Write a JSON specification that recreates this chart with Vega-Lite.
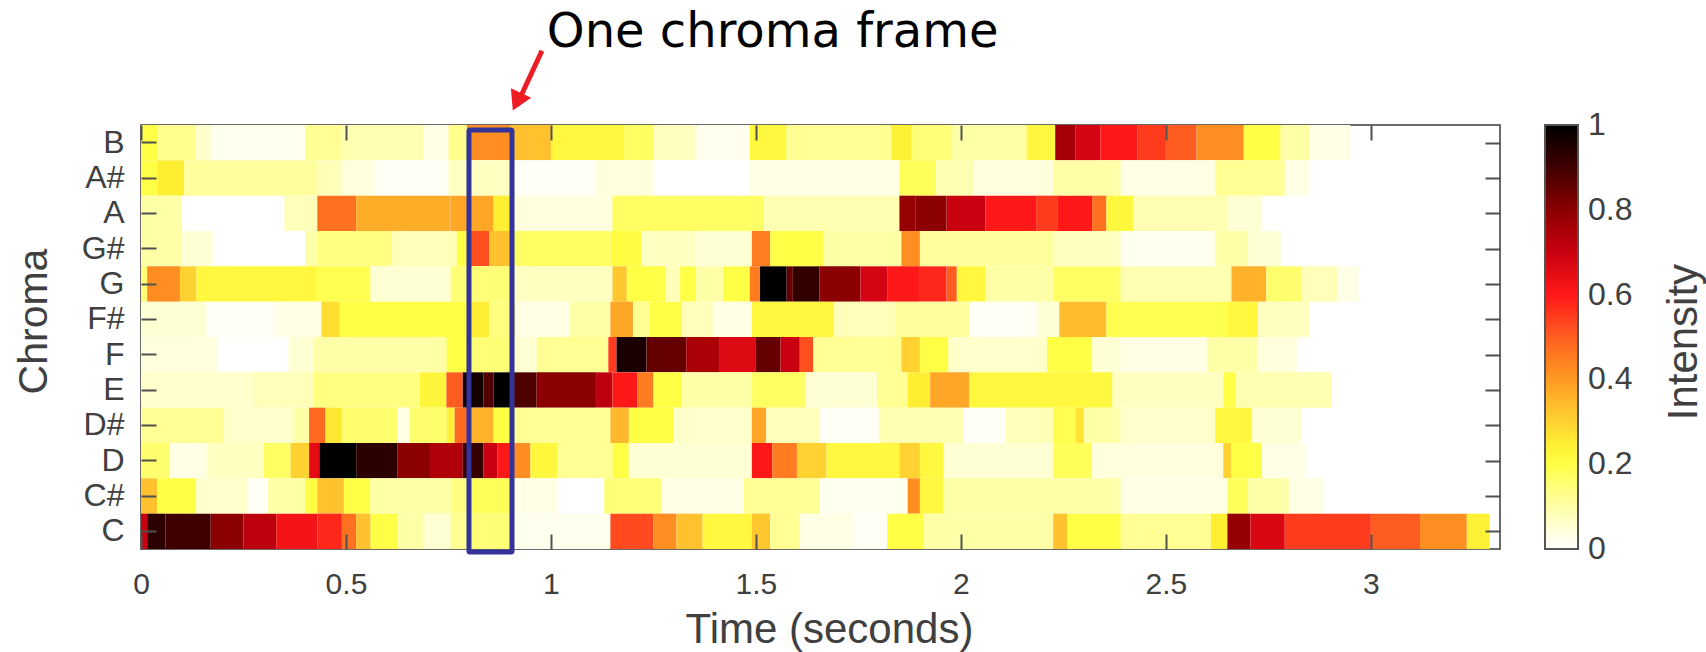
{"$schema":"https://vega.github.io/schema/vega-lite/v6.json","width":1359,"height":424,"autosize":{"type":"none"},"padding":{"left":141,"top":125,"right":206,"bottom":103},"background":"white","config":{"view":{"stroke":"#6a6a6a","strokeWidth":2},"font":"Liberation Sans"},"layer":[{"data":{"values":[
{"c":"B","t0":0,"t1":0.04,"v":0.2},{"c":"B","t0":0.04,"t1":0.135,"v":0.13},{"c":"B","t0":0.135,"t1":0.17,"v":0.06},{"c":"B","t0":0.17,"t1":0.4,"v":0.02},{"c":"B","t0":0.4,"t1":0.49,"v":0.12},{"c":"B","t0":0.49,"t1":0.69,"v":0.09},{"c":"B","t0":0.69,"t1":0.75,"v":0.03},{"c":"B","t0":0.75,"t1":0.795,"v":0.13},{"c":"B","t0":0.795,"t1":0.9,"v":0.42},{"c":"B","t0":0.9,"t1":1.0,"v":0.33},{"c":"B","t0":1.0,"t1":1.18,"v":0.22},{"c":"B","t0":1.18,"t1":1.25,"v":0.17},{"c":"B","t0":1.25,"t1":1.355,"v":0.07},{"c":"B","t0":1.355,"t1":1.485,"v":0.02},{"c":"B","t0":1.485,"t1":1.575,"v":0.22},{"c":"B","t0":1.575,"t1":1.83,"v":0.12},{"c":"B","t0":1.83,"t1":1.88,"v":0.24},{"c":"B","t0":1.88,"t1":1.98,"v":0.15},{"c":"B","t0":1.98,"t1":2.16,"v":0.1},{"c":"B","t0":2.16,"t1":2.23,"v":0.22},{"c":"B","t0":2.23,"t1":2.28,"v":0.76},{"c":"B","t0":2.28,"t1":2.34,"v":0.68},{"c":"B","t0":2.34,"t1":2.43,"v":0.6},{"c":"B","t0":2.43,"t1":2.5,"v":0.55},{"c":"B","t0":2.5,"t1":2.575,"v":0.5},{"c":"B","t0":2.575,"t1":2.69,"v":0.42},{"c":"B","t0":2.69,"t1":2.78,"v":0.2},{"c":"B","t0":2.78,"t1":2.85,"v":0.1},{"c":"B","t0":2.85,"t1":2.95,"v":0.03},
{"c":"A#","t0":0,"t1":0.04,"v":0.2},{"c":"A#","t0":0.04,"t1":0.105,"v":0.25},{"c":"A#","t0":0.105,"t1":0.43,"v":0.11},{"c":"A#","t0":0.43,"t1":0.49,"v":0.08},{"c":"A#","t0":0.49,"t1":0.57,"v":0.04},{"c":"A#","t0":0.57,"t1":0.75,"v":0.01},{"c":"A#","t0":0.75,"t1":0.9,"v":0.07},{"c":"A#","t0":0.9,"t1":1.11,"v":0.01},{"c":"A#","t0":1.11,"t1":1.25,"v":0.04},{"c":"A#","t0":1.25,"t1":1.485,"v":0},{"c":"A#","t0":1.485,"t1":1.85,"v":0.03},{"c":"A#","t0":1.85,"t1":1.94,"v":0.18},{"c":"A#","t0":1.94,"t1":2.03,"v":0.09},{"c":"A#","t0":2.03,"t1":2.225,"v":0.04},{"c":"A#","t0":2.225,"t1":2.39,"v":0.1},{"c":"A#","t0":2.39,"t1":2.62,"v":0.03},{"c":"A#","t0":2.62,"t1":2.79,"v":0.12},{"c":"A#","t0":2.79,"t1":2.85,"v":0.03},
{"c":"A","t0":0,"t1":0.1,"v":0.1},{"c":"A","t0":0.35,"t1":0.43,"v":0.08},{"c":"A","t0":0.43,"t1":0.525,"v":0.47},{"c":"A","t0":0.525,"t1":0.755,"v":0.37},{"c":"A","t0":0.755,"t1":0.86,"v":0.38},{"c":"A","t0":0.86,"t1":0.9,"v":0.25},{"c":"A","t0":0.9,"t1":1.15,"v":0.04},{"c":"A","t0":1.15,"t1":1.52,"v":0.17},{"c":"A","t0":1.52,"t1":1.85,"v":0.09},{"c":"A","t0":1.85,"t1":1.89,"v":0.78},{"c":"A","t0":1.89,"t1":1.965,"v":0.8},{"c":"A","t0":1.965,"t1":2.06,"v":0.7},{"c":"A","t0":2.06,"t1":2.185,"v":0.6},{"c":"A","t0":2.185,"t1":2.235,"v":0.55},{"c":"A","t0":2.235,"t1":2.32,"v":0.6},{"c":"A","t0":2.32,"t1":2.355,"v":0.47},{"c":"A","t0":2.355,"t1":2.42,"v":0.22},{"c":"A","t0":2.42,"t1":2.65,"v":0.09},{"c":"A","t0":2.65,"t1":2.735,"v":0.05},
{"c":"G#","t0":0,"t1":0.1,"v":0.1},{"c":"G#","t0":0.1,"t1":0.175,"v":0.05},{"c":"G#","t0":0.4,"t1":0.43,"v":0.1},{"c":"G#","t0":0.43,"t1":0.61,"v":0.14},{"c":"G#","t0":0.61,"t1":0.77,"v":0.08},{"c":"G#","t0":0.77,"t1":0.8,"v":0.2},{"c":"G#","t0":0.8,"t1":0.85,"v":0.52},{"c":"G#","t0":0.85,"t1":0.9,"v":0.33},{"c":"G#","t0":0.9,"t1":1.145,"v":0.17},{"c":"G#","t0":1.145,"t1":1.22,"v":0.21},{"c":"G#","t0":1.22,"t1":1.355,"v":0.07},{"c":"G#","t0":1.355,"t1":1.49,"v":0.05},{"c":"G#","t0":1.49,"t1":1.535,"v":0.45},{"c":"G#","t0":1.535,"t1":1.665,"v":0.2},{"c":"G#","t0":1.665,"t1":1.855,"v":0.1},{"c":"G#","t0":1.855,"t1":1.9,"v":0.42},{"c":"G#","t0":1.9,"t1":2.225,"v":0.11},{"c":"G#","t0":2.225,"t1":2.39,"v":0.07},{"c":"G#","t0":2.39,"t1":2.62,"v":0.02},{"c":"G#","t0":2.62,"t1":2.7,"v":0.1},{"c":"G#","t0":2.7,"t1":2.78,"v":0.05},
{"c":"G","t0":0,"t1":0.015,"v":0.15},{"c":"G","t0":0.015,"t1":0.095,"v":0.42},{"c":"G","t0":0.095,"t1":0.135,"v":0.3},{"c":"G","t0":0.135,"t1":0.43,"v":0.22},{"c":"G","t0":0.43,"t1":0.56,"v":0.19},{"c":"G","t0":0.56,"t1":0.755,"v":0.05},{"c":"G","t0":0.755,"t1":0.9,"v":0.15},{"c":"G","t0":0.9,"t1":1.15,"v":0.07},{"c":"G","t0":1.15,"t1":1.185,"v":0.32},{"c":"G","t0":1.185,"t1":1.28,"v":0.2},{"c":"G","t0":1.28,"t1":1.315,"v":0.08},{"c":"G","t0":1.315,"t1":1.355,"v":0.2},{"c":"G","t0":1.355,"t1":1.42,"v":0.1},{"c":"G","t0":1.42,"t1":1.485,"v":0.2},{"c":"G","t0":1.485,"t1":1.51,"v":0.45},{"c":"G","t0":1.51,"t1":1.575,"v":1},{"c":"G","t0":1.575,"t1":1.59,"v":0.85},{"c":"G","t0":1.59,"t1":1.655,"v":0.92},{"c":"G","t0":1.655,"t1":1.755,"v":0.8},{"c":"G","t0":1.755,"t1":1.82,"v":0.68},{"c":"G","t0":1.82,"t1":1.9,"v":0.6},{"c":"G","t0":1.9,"t1":1.965,"v":0.58},{"c":"G","t0":1.965,"t1":1.99,"v":0.5},{"c":"G","t0":1.99,"t1":2.06,"v":0.22},{"c":"G","t0":2.06,"t1":2.225,"v":0.1},{"c":"G","t0":2.225,"t1":2.39,"v":0.17},{"c":"G","t0":2.39,"t1":2.66,"v":0.09},{"c":"G","t0":2.66,"t1":2.745,"v":0.36},{"c":"G","t0":2.745,"t1":2.83,"v":0.16},{"c":"G","t0":2.83,"t1":2.92,"v":0.08},{"c":"G","t0":2.92,"t1":2.97,"v":0.03},
{"c":"F#","t0":0,"t1":0.16,"v":0.05},{"c":"F#","t0":0.16,"t1":0.33,"v":0.01},{"c":"F#","t0":0.33,"t1":0.44,"v":0.03},{"c":"F#","t0":0.44,"t1":0.485,"v":0.28},{"c":"F#","t0":0.485,"t1":0.8,"v":0.2},{"c":"F#","t0":0.8,"t1":0.85,"v":0.25},{"c":"F#","t0":0.85,"t1":0.915,"v":0.14},{"c":"F#","t0":0.915,"t1":1.045,"v":0.03},{"c":"F#","t0":1.045,"t1":1.145,"v":0.1},{"c":"F#","t0":1.145,"t1":1.2,"v":0.38},{"c":"F#","t0":1.2,"t1":1.24,"v":0.12},{"c":"F#","t0":1.24,"t1":1.32,"v":0.2},{"c":"F#","t0":1.32,"t1":1.395,"v":0.08},{"c":"F#","t0":1.395,"t1":1.49,"v":0.03},{"c":"F#","t0":1.49,"t1":1.69,"v":0.22},{"c":"F#","t0":1.69,"t1":1.84,"v":0.08},{"c":"F#","t0":1.84,"t1":2.02,"v":0.11},{"c":"F#","t0":2.02,"t1":2.185,"v":0.01},{"c":"F#","t0":2.185,"t1":2.24,"v":0.05},{"c":"F#","t0":2.24,"t1":2.355,"v":0.34},{"c":"F#","t0":2.355,"t1":2.65,"v":0.19},{"c":"F#","t0":2.65,"t1":2.725,"v":0.22},{"c":"F#","t0":2.725,"t1":2.85,"v":0.07},
{"c":"F","t0":0,"t1":0.185,"v":0.04},{"c":"F","t0":0.36,"t1":0.42,"v":0.05},{"c":"F","t0":0.42,"t1":0.745,"v":0.1},{"c":"F","t0":0.745,"t1":0.8,"v":0.2},{"c":"F","t0":0.8,"t1":0.9,"v":0.15},{"c":"F","t0":0.9,"t1":0.965,"v":0.05},{"c":"F","t0":0.965,"t1":1.14,"v":0.12},{"c":"F","t0":1.14,"t1":1.16,"v":0.55},{"c":"F","t0":1.16,"t1":1.233,"v":0.96},{"c":"F","t0":1.233,"t1":1.33,"v":0.85},{"c":"F","t0":1.33,"t1":1.41,"v":0.75},{"c":"F","t0":1.41,"t1":1.5,"v":0.66},{"c":"F","t0":1.5,"t1":1.56,"v":0.85},{"c":"F","t0":1.56,"t1":1.607,"v":0.7},{"c":"F","t0":1.607,"t1":1.64,"v":0.52},{"c":"F","t0":1.64,"t1":1.855,"v":0.12},{"c":"F","t0":1.855,"t1":1.9,"v":0.3},{"c":"F","t0":1.9,"t1":1.97,"v":0.2},{"c":"F","t0":1.97,"t1":2.21,"v":0.06},{"c":"F","t0":2.21,"t1":2.32,"v":0.2},{"c":"F","t0":2.32,"t1":2.39,"v":0.05},{"c":"F","t0":2.39,"t1":2.6,"v":0.03},{"c":"F","t0":2.6,"t1":2.725,"v":0.1},{"c":"F","t0":2.725,"t1":2.82,"v":0.04},
{"c":"E","t0":0,"t1":0.275,"v":0.06},{"c":"E","t0":0.275,"t1":0.42,"v":0.08},{"c":"E","t0":0.42,"t1":0.68,"v":0.14},{"c":"E","t0":0.68,"t1":0.745,"v":0.23},{"c":"E","t0":0.745,"t1":0.785,"v":0.5},{"c":"E","t0":0.785,"t1":0.835,"v":0.97},{"c":"E","t0":0.835,"t1":0.86,"v":0.88},{"c":"E","t0":0.86,"t1":0.91,"v":1},{"c":"E","t0":0.91,"t1":0.965,"v":0.88},{"c":"E","t0":0.965,"t1":1.11,"v":0.8},{"c":"E","t0":1.11,"t1":1.15,"v":0.72},{"c":"E","t0":1.15,"t1":1.21,"v":0.6},{"c":"E","t0":1.21,"t1":1.25,"v":0.45},{"c":"E","t0":1.25,"t1":1.32,"v":0.2},{"c":"E","t0":1.32,"t1":1.49,"v":0.1},{"c":"E","t0":1.49,"t1":1.62,"v":0.17},{"c":"E","t0":1.62,"t1":1.795,"v":0.05},{"c":"E","t0":1.795,"t1":1.87,"v":0.12},{"c":"E","t0":1.87,"t1":1.925,"v":0.25},{"c":"E","t0":1.925,"t1":2.02,"v":0.38},{"c":"E","t0":2.02,"t1":2.37,"v":0.22},{"c":"E","t0":2.37,"t1":2.64,"v":0.07},{"c":"E","t0":2.64,"t1":2.67,"v":0.2},{"c":"E","t0":2.67,"t1":2.905,"v":0.09},
{"c":"D#","t0":0,"t1":0.2,"v":0.12},{"c":"D#","t0":0.2,"t1":0.37,"v":0.06},{"c":"D#","t0":0.37,"t1":0.41,"v":0.1},{"c":"D#","t0":0.41,"t1":0.45,"v":0.48},{"c":"D#","t0":0.45,"t1":0.49,"v":0.26},{"c":"D#","t0":0.49,"t1":0.625,"v":0.16},{"c":"D#","t0":0.625,"t1":0.655,"v":0.03},{"c":"D#","t0":0.655,"t1":0.745,"v":0.16},{"c":"D#","t0":0.745,"t1":0.765,"v":0.24},{"c":"D#","t0":0.765,"t1":0.795,"v":0.48},{"c":"D#","t0":0.795,"t1":0.86,"v":0.36},{"c":"D#","t0":0.86,"t1":0.9,"v":0.2},{"c":"D#","t0":0.9,"t1":1.145,"v":0.12},{"c":"D#","t0":1.145,"t1":1.19,"v":0.35},{"c":"D#","t0":1.19,"t1":1.3,"v":0.2},{"c":"D#","t0":1.3,"t1":1.49,"v":0.06},{"c":"D#","t0":1.49,"t1":1.525,"v":0.38},{"c":"D#","t0":1.525,"t1":1.655,"v":0.08},{"c":"D#","t0":1.655,"t1":1.8,"v":0.01},{"c":"D#","t0":1.8,"t1":2.005,"v":0.09},{"c":"D#","t0":2.005,"t1":2.11,"v":0.01},{"c":"D#","t0":2.11,"t1":2.225,"v":0.08},{"c":"D#","t0":2.225,"t1":2.28,"v":0.19},{"c":"D#","t0":2.28,"t1":2.3,"v":0.27},{"c":"D#","t0":2.3,"t1":2.39,"v":0.1},{"c":"D#","t0":2.39,"t1":2.62,"v":0.06},{"c":"D#","t0":2.62,"t1":2.71,"v":0.22},{"c":"D#","t0":2.71,"t1":2.83,"v":0.05},
{"c":"D","t0":0,"t1":0.07,"v":0.16},{"c":"D","t0":0.07,"t1":0.16,"v":0.03},{"c":"D","t0":0.16,"t1":0.3,"v":0.07},{"c":"D","t0":0.3,"t1":0.365,"v":0.17},{"c":"D","t0":0.365,"t1":0.41,"v":0.3},{"c":"D","t0":0.41,"t1":0.435,"v":0.65},{"c":"D","t0":0.435,"t1":0.525,"v":1},{"c":"D","t0":0.525,"t1":0.625,"v":0.93},{"c":"D","t0":0.625,"t1":0.705,"v":0.8},{"c":"D","t0":0.705,"t1":0.785,"v":0.74},{"c":"D","t0":0.785,"t1":0.835,"v":0.92},{"c":"D","t0":0.835,"t1":0.87,"v":0.7},{"c":"D","t0":0.87,"t1":0.9,"v":0.6},{"c":"D","t0":0.9,"t1":0.95,"v":0.42},{"c":"D","t0":0.95,"t1":1.015,"v":0.22},{"c":"D","t0":1.015,"t1":1.15,"v":0.12},{"c":"D","t0":1.15,"t1":1.19,"v":0.2},{"c":"D","t0":1.19,"t1":1.49,"v":0.05},{"c":"D","t0":1.49,"t1":1.54,"v":0.6},{"c":"D","t0":1.54,"t1":1.6,"v":0.45},{"c":"D","t0":1.6,"t1":1.672,"v":0.3},{"c":"D","t0":1.672,"t1":1.85,"v":0.22},{"c":"D","t0":1.85,"t1":1.9,"v":0.3},{"c":"D","t0":1.9,"t1":1.958,"v":0.22},{"c":"D","t0":1.958,"t1":2.225,"v":0.05},{"c":"D","t0":2.225,"t1":2.32,"v":0.18},{"c":"D","t0":2.32,"t1":2.64,"v":0.04},{"c":"D","t0":2.64,"t1":2.66,"v":0.3},{"c":"D","t0":2.66,"t1":2.735,"v":0.2},{"c":"D","t0":2.735,"t1":2.84,"v":0.03},
{"c":"C#","t0":0,"t1":0.04,"v":0.33},{"c":"C#","t0":0.04,"t1":0.135,"v":0.2},{"c":"C#","t0":0.135,"t1":0.26,"v":0.06},{"c":"C#","t0":0.26,"t1":0.31,"v":0.01},{"c":"C#","t0":0.31,"t1":0.4,"v":0.1},{"c":"C#","t0":0.4,"t1":0.43,"v":0.2},{"c":"C#","t0":0.43,"t1":0.495,"v":0.33},{"c":"C#","t0":0.495,"t1":0.56,"v":0.2},{"c":"C#","t0":0.56,"t1":0.755,"v":0.1},{"c":"C#","t0":0.755,"t1":0.8,"v":0.14},{"c":"C#","t0":0.8,"t1":0.9,"v":0.18},{"c":"C#","t0":0.9,"t1":1.015,"v":0.03},{"c":"C#","t0":1.015,"t1":1.13,"v":0},{"c":"C#","t0":1.13,"t1":1.27,"v":0.15},{"c":"C#","t0":1.27,"t1":1.47,"v":0.03},{"c":"C#","t0":1.47,"t1":1.655,"v":0.12},{"c":"C#","t0":1.655,"t1":1.87,"v":0.02},{"c":"C#","t0":1.87,"t1":1.9,"v":0.42},{"c":"C#","t0":1.9,"t1":1.958,"v":0.22},{"c":"C#","t0":1.958,"t1":2.39,"v":0.1},{"c":"C#","t0":2.39,"t1":2.65,"v":0.03},{"c":"C#","t0":2.65,"t1":2.7,"v":0.18},{"c":"C#","t0":2.7,"t1":2.8,"v":0.1},{"c":"C#","t0":2.8,"t1":2.886,"v":0.03},
{"c":"C","t0":0,"t1":0.015,"v":0.7},{"c":"C","t0":0.015,"t1":0.06,"v":0.93},{"c":"C","t0":0.06,"t1":0.17,"v":0.9},{"c":"C","t0":0.17,"t1":0.25,"v":0.8},{"c":"C","t0":0.25,"t1":0.33,"v":0.72},{"c":"C","t0":0.33,"t1":0.43,"v":0.62},{"c":"C","t0":0.43,"t1":0.49,"v":0.58},{"c":"C","t0":0.49,"t1":0.525,"v":0.47},{"c":"C","t0":0.525,"t1":0.56,"v":0.33},{"c":"C","t0":0.56,"t1":0.625,"v":0.2},{"c":"C","t0":0.625,"t1":0.69,"v":0.1},{"c":"C","t0":0.69,"t1":0.755,"v":0.05},{"c":"C","t0":0.755,"t1":0.8,"v":0.12},{"c":"C","t0":0.8,"t1":0.91,"v":0.15},{"c":"C","t0":0.91,"t1":1.145,"v":0.02},{"c":"C","t0":1.145,"t1":1.25,"v":0.53},{"c":"C","t0":1.25,"t1":1.306,"v":0.42},{"c":"C","t0":1.306,"t1":1.37,"v":0.33},{"c":"C","t0":1.37,"t1":1.49,"v":0.22},{"c":"C","t0":1.49,"t1":1.535,"v":0.32},{"c":"C","t0":1.535,"t1":1.607,"v":0.12},{"c":"C","t0":1.607,"t1":1.737,"v":0.03},{"c":"C","t0":1.737,"t1":1.82,"v":0.01},{"c":"C","t0":1.82,"t1":1.908,"v":0.2},{"c":"C","t0":1.908,"t1":2.225,"v":0.1},{"c":"C","t0":2.225,"t1":2.26,"v":0.33},{"c":"C","t0":2.26,"t1":2.39,"v":0.2},{"c":"C","t0":2.39,"t1":2.61,"v":0.12},{"c":"C","t0":2.61,"t1":2.65,"v":0.25},{"c":"C","t0":2.65,"t1":2.706,"v":0.78},{"c":"C","t0":2.706,"t1":2.79,"v":0.67},{"c":"C","t0":2.79,"t1":3.0,"v":0.55},{"c":"C","t0":3.0,"t1":3.12,"v":0.5},{"c":"C","t0":3.12,"t1":3.234,"v":0.42},{"c":"C","t0":3.234,"t1":3.29,"v":0.24}
]},"mark":{"type":"rect","stroke":null},"encoding":{
"x":{"field":"t0","type":"quantitative","scale":{"domain":[0,3.315],"nice":false,"zero":false},"axis":{"zindex":1,"values":[0,0.5,1,1.5,2,2.5,3],"labelExpr":"''+datum.value","grid":false,"domain":false,"tickSize":-15,"tickColor":"#505050","tickWidth":2,"labelFontSize":30,"labelColor":"#404040","labelPadding":35,"labelFlush":false,"title":"Time (seconds)","titleFontSize":42,"titleFontWeight":"normal","titleColor":"#404040","titlePadding":10,"titleX":688}},
"x2":{"field":"t1"},
"y":{"field":"c","type":"nominal","sort":["B","A#","A","G#","G","F#","F","E","D#","D","C#","C"],"scale":{"paddingInner":0,"paddingOuter":0},"axis":{"zindex":1,"grid":false,"domain":false,"tickSize":-15,"tickColor":"#505050","tickWidth":2,"labelFontSize":32,"labelColor":"#404040","labelPadding":32,"title":"Chroma","titleFontSize":41,"titleFontWeight":"normal","titleColor":"#404040","titlePadding":26,"labelAngle":0,"titleY":196}},
"color":{"field":"v","type":"quantitative","scale":{"domain":[0,1],"interpolate":"rgb","range":["#ffffff","#ffffd4","#ffffa8","#ffff77","#ffff46","#ffee32","#ffd131","#ffb82c","#ff9a23","#ff7d20","#ff5d20","#ff3b1d","#ff1818","#e40c14","#c80010","#aa0008","#8b0000","#650000","#400000","#200000","#000000"]},"legend":{"orient":"none","legendX":1404,"legendY":0,"gradientLength":424,"gradientThickness":33,"gradientStrokeColor":"#555555","gradientStrokeWidth":2,"values":[0.001,0.2,0.4,0.6,0.8,0.999],"labelExpr":"''+round(datum.value*10)/10","labelFontSize":32,"labelColor":"#404040","labelOverlap":false,"labelBaseline":"middle","labelOffset":10,"title":null}}}},
{"data":{"values":[{"t0":0.8,"t1":0.905,"f0":-0.007,"f1":0.988}]},"mark":{"type":"rect","fill":null,"stroke":"#333399","strokeWidth":5,"cornerRadius":1},"encoding":{"x":{"field":"t0","type":"quantitative","axis":{"zindex":1,"orient":"top","values":[0,0.5,1,1.5,2,2.5,3],"labels":false,"domain":false,"grid":false,"tickSize":-15,"tickColor":"#505050","tickWidth":2,"title":null}},"x2":{"field":"t1"},"y":{"field":"f0","type":"quantitative","scale":{"domain":[0,1],"nice":false,"zero":false},"axis":{"zindex":1,"orient":"right","values":[0.0417,0.125,0.2083,0.2917,0.375,0.4583,0.5417,0.625,0.7083,0.7917,0.875,0.9583],"labels":false,"domain":false,"grid":false,"tickSize":-15,"tickColor":"#505050","tickWidth":2,"title":null}},"y2":{"field":"f1"}}},
{"data":{"values":[{"t":0.978,"f":1.175},{"t":0.916,"f":1.046}]},"mark":{"type":"line","color":"#ee1c25","strokeWidth":5},"encoding":{"x":{"field":"t","type":"quantitative","axis":null},"y":{"field":"f","type":"quantitative","scale":{"domain":[0,1],"nice":false,"zero":false},"axis":null}}},
{"data":{"values":[{"t":0.917,"f":1.055}]},"mark":{"type":"point","shape":"triangle-up","filled":true,"color":"#ee1c25","opacity":1,"size":500,"angle":205},"encoding":{"x":{"field":"t","type":"quantitative","axis":null},"y":{"field":"f","type":"quantitative","scale":{"domain":[0,1],"nice":false,"zero":false},"axis":null}}},
{"data":{"values":[{"t":0.99,"f":1.217,"label":"One chroma frame"}]},"mark":{"type":"text","font":"DejaVu Sans","fontSize":48,"align":"left","baseline":"middle","color":"#000000"},"encoding":{"x":{"field":"t","type":"quantitative","axis":null},"y":{"field":"f","type":"quantitative","scale":{"domain":[0,1],"nice":false,"zero":false},"axis":null},"text":{"field":"label"}}},
{"data":{"values":[{"t":3.764,"f":0.488,"label":"Intensity"}]},"mark":{"type":"text","font":"Liberation Sans","fontSize":42,"angle":270,"align":"center","baseline":"middle","color":"#404040"},"encoding":{"x":{"field":"t","type":"quantitative","axis":null},"y":{"field":"f","type":"quantitative","scale":{"domain":[0,1],"nice":false,"zero":false},"axis":null},"text":{"field":"label"}}}
],"resolve":{"scale":{"y":"independent"},"axis":{"x":"independent","y":"independent"}}}
